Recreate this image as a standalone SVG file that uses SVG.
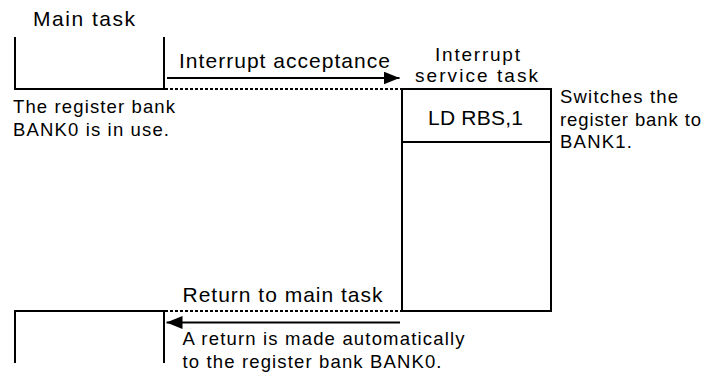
<svg xmlns="http://www.w3.org/2000/svg" width="703" height="373" viewBox="0 0 703 373">
<style>
  text { font-family: "Liberation Sans", Arial, sans-serif; fill: #000; }
  .big { font-size: 21px; }
  .hd { font-size: 19px; }
  .sm { font-size: 18.5px; }
  .ln { stroke: #000; stroke-width: 2; fill: none; }
  .dot { stroke: #000; stroke-width: 2; stroke-dasharray: 3 2; fill: none; }
</style>
<defs>
  <marker id="ah" markerWidth="16" markerHeight="13" refX="16" refY="6.5" orient="auto" markerUnits="userSpaceOnUse">
    <path d="M0,0 L16,6.5 L0,13 Z" fill="#000"/>
  </marker>
</defs>
<rect width="703" height="373" fill="#fff"/>
<g id="main-task-top">
  <text class="big" x="33" y="26" textLength="102" lengthAdjust="spacing">Main task</text>
  <path class="ln" d="M15,37 V89 H164 V37"/>
  <text class="sm" x="13" y="113" textLength="162" lengthAdjust="spacing">The register bank</text>
  <text class="sm" x="13" y="136" textLength="156" lengthAdjust="spacing">BANK0 is in use.</text>
</g>
<g id="isr-task">
  <text class="hd" x="435" y="60.5" textLength="85" lengthAdjust="spacing">Interrupt</text>
  <text class="hd" x="415" y="82" textLength="123" lengthAdjust="spacing">service task</text>
  <rect class="ln" x="402" y="89" width="149" height="222"/>
  <line class="ln" x1="402" y1="142" x2="551" y2="142"/>
  <text class="big" x="428" y="125" textLength="95" lengthAdjust="spacing">LD  RBS,1</text>
  <text class="sm" x="560" y="102.5" textLength="118" lengthAdjust="spacing">Switches the</text>
  <text class="sm" x="560" y="125.5" textLength="141" lengthAdjust="spacing">register bank to</text>
  <text class="sm" x="560" y="148" textLength="72" lengthAdjust="spacing">BANK1.</text>
</g>
<g id="main-task-bottom">
  <path class="ln" d="M15,363 V311 H164 V363"/>
</g>
<g id="connectors">
  <line class="dot" x1="165" y1="89" x2="402" y2="89"/>
  <line class="ln" x1="167" y1="78" x2="399.5" y2="78" marker-end="url(#ah)"/>
  <text class="big" x="179" y="67.5" textLength="211" lengthAdjust="spacing">Interrupt acceptance</text>
  <line class="dot" x1="165" y1="311" x2="402" y2="311"/>
  <line class="ln" x1="400" y1="322.5" x2="166.5" y2="322.5" marker-end="url(#ah)"/>
  <text class="big" x="182.5" y="301.5" textLength="200" lengthAdjust="spacing">Return to main task</text>
  <text class="sm" x="182.5" y="345" textLength="282" lengthAdjust="spacing">A return is made automatically</text>
  <text class="sm" x="182.5" y="368" textLength="259" lengthAdjust="spacing">to the register bank BANK0.</text>
</g>
</svg>
